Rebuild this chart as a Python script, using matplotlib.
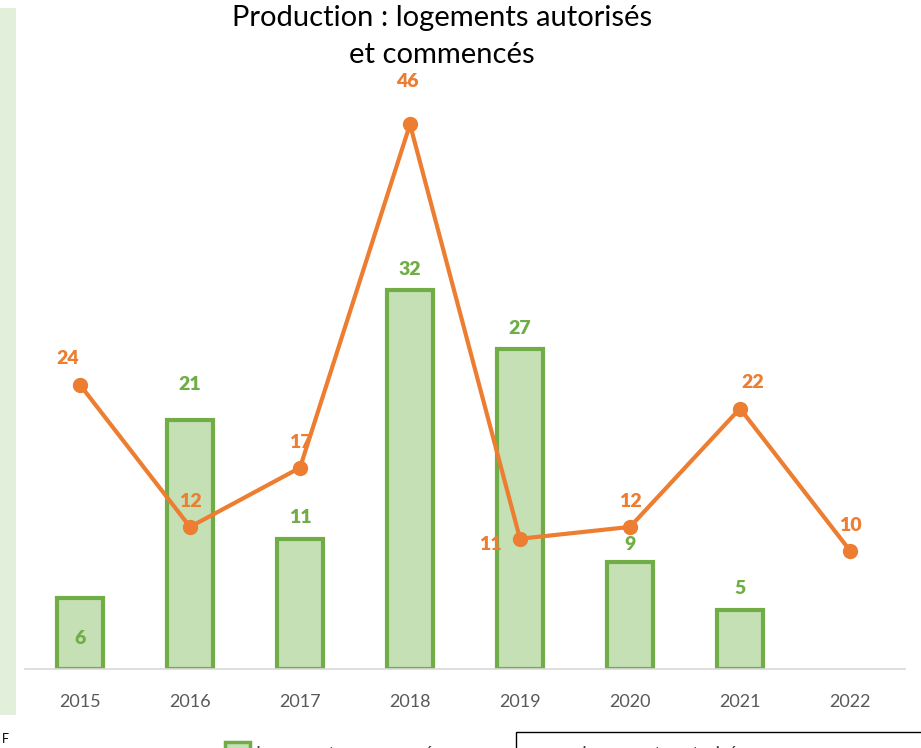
import matplotlib.pyplot as plt
from matplotlib.patches import Rectangle
from matplotlib.lines import Line2D

# Data
years = ["2015", "2016", "2017", "2018", "2019", "2020", "2021", "2022"]
commences = [6, 21, 11, 32, 27, 9, 5, None]
autorises = [24, 12, 17, 46, 11, 12, 22, 10]

# label offsets in points (dx, dy) - placement only
bar_label_off = [(0, -29), (0, 26), (0, 15), (0, 15), (0, 15), (0, 13), (0, 15), (0, 0)]
line_label_off = [(-9, 19), (0, 18), (0, 18), (-2, 31), (-21, -4), (0, 18), (9, 19), (0, 18)]

GREEN_EDGE = "#70AD47"
GREEN_FILL = "#C5E0B4"
ORANGE = "#ED7D31"

plt.rcParams["font.family"] = ["Lato", "DejaVu Sans"]

W, H = 921, 748
fig = plt.figure(figsize=(W / 100, H / 100), dpi=100)

def px(x, y):
    # pixel (from top-left) -> figure fraction
    return x / W, 1 - y / H

# left green strip
fig.add_artist(Rectangle(px(0, 715), 16 / W, 707 / H, transform=fig.transFigure,
                         facecolor="#E2EFDA", edgecolor="none"))

ax = fig.add_axes([25 / W, (H - 669) / H, 880 / W, 592 / H])
x = list(range(len(years)))

bx = [i for i, v in zip(x, commences) if v is not None]
bv = [v for v in commences if v is not None]
ax.bar(bx, bv, width=0.42, color=GREEN_FILL, edgecolor=GREEN_EDGE, linewidth=3, zorder=2)
ax.plot(x, autorises, color=ORANGE, linewidth=3, marker="o", markersize=10, zorder=3)

for i, v in zip(x, commences):
    if v is None:
        continue
    dx, dy = bar_label_off[i]
    ax.annotate(str(v), (i, v), xytext=(dx, dy), textcoords="offset points",
                ha="center", va="center", color=GREEN_EDGE, fontsize=14, fontweight="heavy")

for i, v in zip(x, autorises):
    dx, dy = line_label_off[i]
    ax.annotate(str(v), (i, v), xytext=(dx, dy), textcoords="offset points",
                ha="center", va="center", color=ORANGE, fontsize=14, fontweight="heavy")

ax.set_xlim(-0.5, 7.5)
ax.set_ylim(0, 50)
ax.set_xticks(x)
ax.set_xticklabels(years, fontsize=13, color="#595959")
ax.tick_params(axis="x", length=0, pad=18)
ax.set_yticks([])
for s in ["top", "right", "left"]:
    ax.spines[s].set_visible(False)
ax.spines["bottom"].set_color("#D9D9D9")
ax.spines["bottom"].set_linewidth(1.2)

# title
fig.text(*px(442, 18), "Production : logements autorisés", ha="center", va="center",
         fontsize=21, color="black")
fig.text(*px(442, 55), "et commencés", ha="center", va="center", fontsize=21, color="black")

# small "F" bottom left
fig.text(*px(2, 739), "F", ha="left", va="center", fontsize=9, color="black")

# legend (cut at bottom edge, as in the source)
fig.add_artist(Rectangle(px(225, 760), 25 / W, 18 / H, transform=fig.transFigure,
                         facecolor=GREEN_FILL, edgecolor=GREEN_EDGE, linewidth=2.5))
fig.text(*px(256, 754), "Logements commencés", ha="left", va="center", fontsize=13,
         color="#404040")
fig.add_artist(Rectangle(px(516, 770), 420 / W, 38 / H, transform=fig.transFigure,
                         facecolor="white", edgecolor="black", linewidth=1))
lx0, ly = px(530, 754)
lx1, _ = px(575, 754)
fig.add_artist(Line2D([lx0, lx1], [ly, ly], transform=fig.transFigure, color=ORANGE,
                      linewidth=3))
fig.add_artist(Line2D([(lx0 + lx1) / 2], [ly], transform=fig.transFigure, color=ORANGE,
                      marker="o", markersize=8))
fig.text(*px(582, 754), "Logements autorisés", ha="left", va="center", fontsize=13,
         color="#404040")

fig.savefig("out.png", dpi=100)
